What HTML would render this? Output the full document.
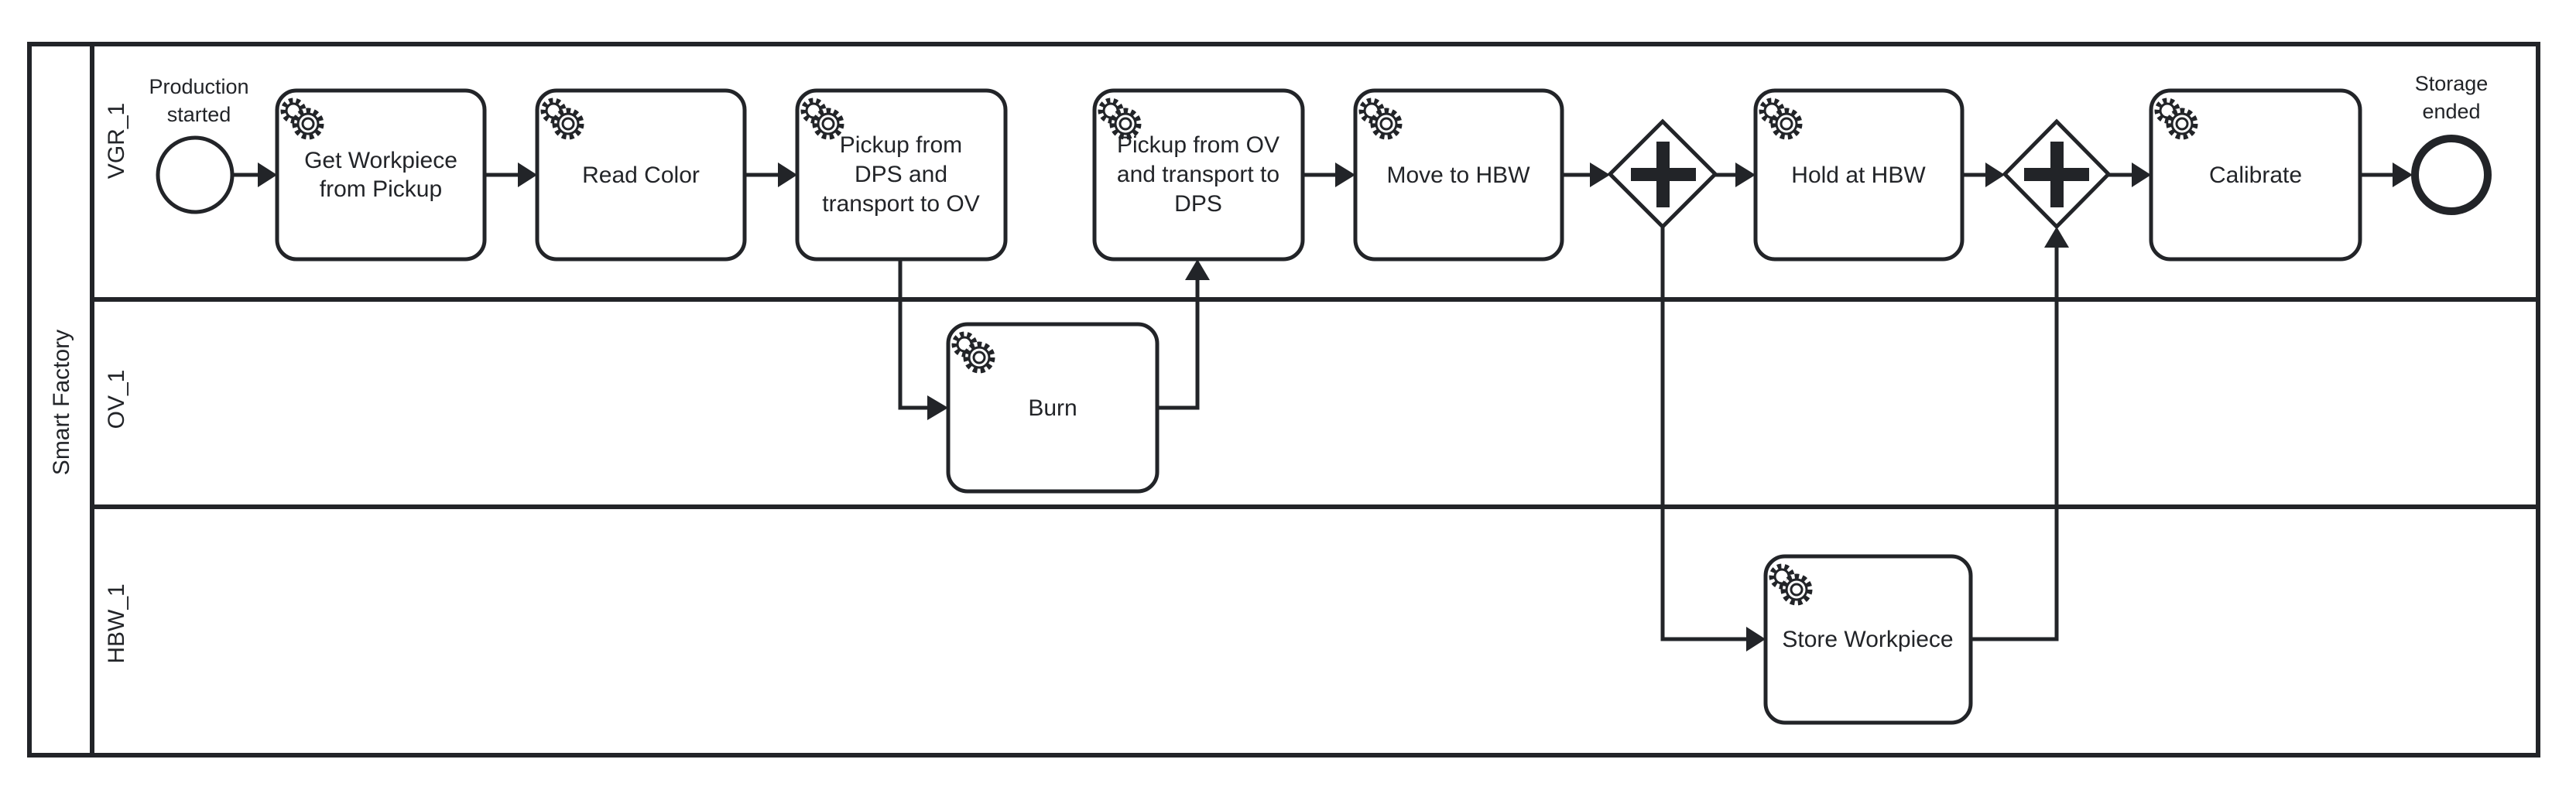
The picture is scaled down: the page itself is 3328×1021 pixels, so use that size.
<!DOCTYPE html>
<html><head><meta charset="utf-8"><style>html,body{margin:0;padding:0;background:#fff}svg{display:block}</style></head>
<body>
<svg width="3328" height="1021" viewBox="0 0 3328 1021" xmlns="http://www.w3.org/2000/svg" font-family="Liberation Sans, Arial, sans-serif">
<defs>
<g id="gear" fill="none" stroke="#222428">
  <circle cx="0" cy="0" r="13" stroke-width="7" stroke-dasharray="5 4.2"/>
  <circle cx="0" cy="0" r="9" stroke-width="3"/>
</g>
<g id="gear2">
  <circle cx="0" cy="0" r="18" fill="#fff" stroke="none"/>
  <circle cx="0" cy="0" r="17" fill="none" stroke="#222428" stroke-width="7" stroke-dasharray="5.5 4.2"/>
  <circle cx="0" cy="0" r="13" fill="#fff" stroke="#222428" stroke-width="3"/>
  <circle cx="0" cy="0" r="7" fill="none" stroke="#222428" stroke-width="3"/>
</g>
</defs>
<g stroke="#222428" fill="none">
  <rect x="38" y="57" width="3241" height="919" stroke-width="6"/>
  <line x1="119" y1="57" x2="119" y2="976" stroke-width="6"/>
  <line x1="119" y1="387" x2="3279" y2="387" stroke-width="6"/>
  <line x1="119" y1="655" x2="3279" y2="655" stroke-width="6"/>
</g>
<g fill="#222428" font-size="30" text-anchor="middle">
  <text transform="translate(89,520) rotate(-90)">Smart Factory</text>
  <text transform="translate(160,182) rotate(-90)">VGR_1</text>
  <text transform="translate(160,516) rotate(-90)">OV_1</text>
  <text transform="translate(160,806) rotate(-90)">HBW_1</text>
</g>
<g stroke="#222428" stroke-width="5" fill="none">
  <line x1="300" y1="226" x2="335" y2="226"/>
  <line x1="626" y1="226" x2="671" y2="226"/>
  <line x1="962" y1="226" x2="1007" y2="226"/>
  <polyline points="1163,335 1163,527 1200,527"/>
  <polyline points="1495,527 1547,527 1547,360"/>
  <line x1="1683" y1="226" x2="1727" y2="226"/>
  <line x1="2018" y1="226" x2="2056" y2="226"/>
  <line x1="2216" y1="226" x2="2244" y2="226"/>
  <line x1="2535" y1="226" x2="2567" y2="226"/>
  <line x1="2724" y1="226" x2="2756" y2="226"/>
  <line x1="3049" y1="226" x2="3093" y2="226"/>
  <polyline points="2148,293 2148,826 2258,826"/>
  <polyline points="2546,826 2657,826 2657,318"/>
</g>
<g fill="#222428">
  <polygon points="333,210 358,226 333,242"/>
  <polygon points="669,210 694,226 669,242"/>
  <polygon points="1005,210 1030,226 1005,242"/>
  <polygon points="1198,511 1225,527 1198,543"/>
  <polygon points="1531,362 1547,335 1563,362"/>
  <polygon points="1725,210 1751,226 1725,242"/>
  <polygon points="2054,210 2080,226 2054,242"/>
  <polygon points="2242,210 2268,226 2242,242"/>
  <polygon points="2565,210 2590,226 2565,242"/>
  <polygon points="2754,210 2779,226 2754,242"/>
  <polygon points="3091,210 3117,226 3091,242"/>
  <polygon points="2256,810 2281,826 2256,842"/>
  <polygon points="2641,320 2657,293 2673,320"/>
</g>
<circle cx="252" cy="226" r="48" fill="#fff" stroke="#222428" stroke-width="5"/>
<circle cx="3167" cy="226" r="47" fill="#fff" stroke="#222428" stroke-width="10"/>
<g fill="#222428" font-size="27" text-anchor="middle">
  <text x="257" y="121">Production</text>
  <text x="257" y="157">started</text>
  <text x="3167" y="117">Storage</text>
  <text x="3167" y="153">ended</text>
</g>
<g stroke="#222428" stroke-width="5" fill="#fff">
  <polygon points="2148,157 2216,225 2148,293 2080,225"/>
  <polygon points="2657,157 2724,225 2657,293 2590,225"/>
</g>
<g fill="#222428">
  <rect x="2107" y="217" width="84" height="17"/><rect x="2140" y="183" width="17" height="85"/>
  <rect x="2615" y="217" width="84" height="17"/><rect x="2649" y="183" width="17" height="85"/>
</g>
<g stroke="#222428" stroke-width="5" fill="#fff">
  <rect x="358" y="117" width="268" height="218" rx="25"/>
  <rect x="694" y="117" width="268" height="218" rx="25"/>
  <rect x="1030" y="117" width="269" height="218" rx="25"/>
  <rect x="1414" y="117" width="269" height="218" rx="25"/>
  <rect x="1751" y="117" width="267" height="218" rx="25"/>
  <rect x="2268" y="117" width="267" height="218" rx="25"/>
  <rect x="2779" y="117" width="270" height="218" rx="25"/>
  <rect x="1225" y="419" width="270" height="216" rx="25"/>
  <rect x="2281" y="719" width="265" height="215" rx="25"/>
</g>
<g>
  <use href="#gear" x="379" y="143"/><use href="#gear2" x="398" y="160"/>
  <use href="#gear" x="715" y="143"/><use href="#gear2" x="734" y="160"/>
  <use href="#gear" x="1051" y="143"/><use href="#gear2" x="1070" y="160"/>
  <use href="#gear" x="1435" y="143"/><use href="#gear2" x="1454" y="160"/>
  <use href="#gear" x="1772" y="143"/><use href="#gear2" x="1791" y="160"/>
  <use href="#gear" x="2289" y="143"/><use href="#gear2" x="2308" y="160"/>
  <use href="#gear" x="2800" y="143"/><use href="#gear2" x="2819" y="160"/>
  <use href="#gear" x="1246" y="445"/><use href="#gear2" x="1265" y="462"/>
  <use href="#gear" x="2302" y="745"/><use href="#gear2" x="2321" y="762"/>
</g>
<g fill="#222428" font-size="30" text-anchor="middle">
  <text x="492" y="217">Get Workpiece</text>
  <text x="492" y="254">from Pickup</text>
  <text x="828" y="236">Read Color</text>
  <text x="1164" y="197">Pickup from</text>
  <text x="1164" y="235">DPS and</text>
  <text x="1164" y="273">transport to OV</text>
  <text x="1548" y="197">Pickup from OV</text>
  <text x="1548" y="235">and transport to</text>
  <text x="1548" y="273">DPS</text>
  <text x="1884" y="236">Move to HBW</text>
  <text x="2401" y="236">Hold at HBW</text>
  <text x="2914" y="236">Calibrate</text>
  <text x="1360" y="537">Burn</text>
  <text x="2413" y="836">Store Workpiece</text>
</g>
</svg>
</body></html>
